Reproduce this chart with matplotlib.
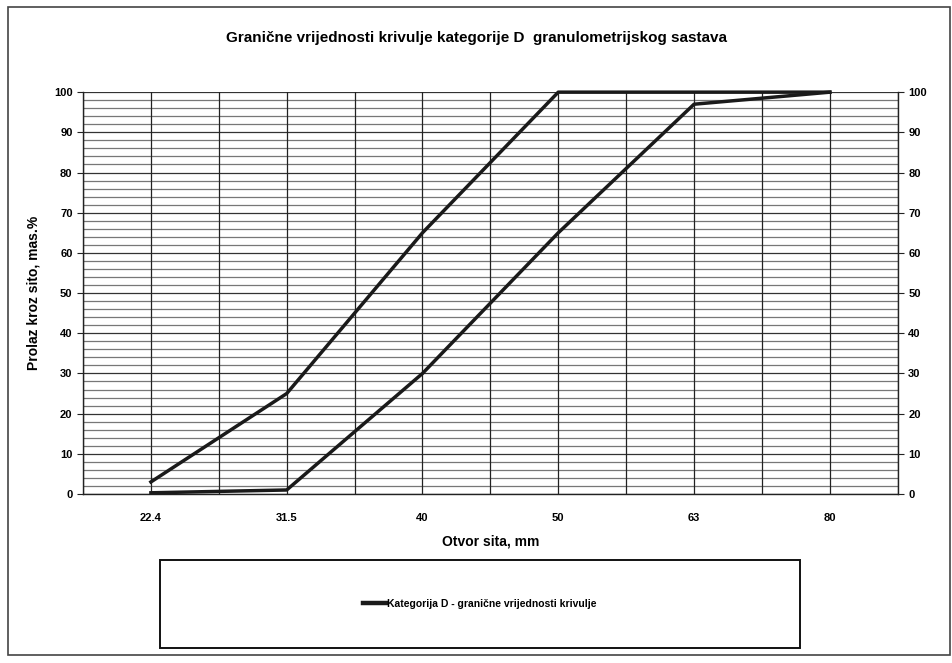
import matplotlib
matplotlib.use("Agg")
import matplotlib.pyplot as plt
import numpy as np
from matplotlib.patches import Rectangle

plt.rcParams['font.family'] = ['Liberation Sans', 'DejaVu Sans']

sieve = ["22.4", "31.5", "40", "50", "63", "80"]
upper = [3, 25, 65, 100, 100, 100]
lower = [0.3, 1, 30, 65, 97, 100]
yticks = [0, 10, 20, 30, 40, 50, 60, 70, 80, 90, 100]

fig = plt.figure(figsize=(9.52, 6.63), dpi=100)
ax = fig.add_axes([0.0872, 0.2549, 0.8558, 0.6061])

x = np.arange(len(sieve))
line_col = "#1a1a1a"

# horizontal grid every 2 %
for v in np.arange(0, 101, 2):
    ax.axhline(v, color="#777777" if v % 10 else "#333333", lw=0.9, zorder=1)
# vertical grid at categories and midpoints
for v in np.arange(-0.5, len(sieve), 0.5):
    ax.axvline(v, color="#222222", lw=0.9, zorder=1)

ax.plot(x, upper, color=line_col, lw=2.5, zorder=3, clip_on=False,
        label="Kategorija D - granične vrijednosti krivulje")
ax.plot(x, lower, color=line_col, lw=2.5, zorder=3, clip_on=False)

ax.set_xlim(-0.5, len(sieve) - 0.5)
ax.set_ylim(0, 100)
ax.set_xticks(x)
ax.set_xticklabels(sieve, fontsize=8, fontweight="bold")
ax.set_yticks(yticks)
ax.set_yticklabels(yticks, fontsize=8, fontweight="bold")
ax.tick_params(axis="y", right=True, labelright=True, length=4, color="#222222")
ax.tick_params(axis="x", length=0, pad=14)
for s in ax.spines.values():
    s.set_color("#222222")
    s.set_linewidth(1.0)
ax.spines["top"].set_visible(False)

ax.set_xlabel("Otvor sita, mm", fontsize=10, fontweight="bold", labelpad=8)
ax.set_ylabel("Prolaz kroz sito, mas.%", fontsize=10, fontweight="bold", labelpad=10)

fig.text(0.5, 0.943, "Granične vrijednosti krivulje kategorije D  granulometrijskog sastava",
         ha="center", va="center", fontsize=11, fontweight="bold")

# outer frame
fig.patches.append(Rectangle((0.008, 0.012), 0.99, 0.977, transform=fig.transFigure,
                             fill=False, ec="#444444", lw=1.2))
# legend box
fig.patches.append(Rectangle((0.168, 0.0226), 0.672, 0.133, transform=fig.transFigure,
                             fill=False, ec="#111111", lw=1.4))
leg = fig.legend(loc="center", bbox_to_anchor=(0.504, 0.089), frameon=False,
                 prop={"size": 7.5, "weight": "bold"}, handlelength=2.2, handletextpad=0.1)
for h in leg.get_lines():
    h.set_linewidth(3.2)

fig.savefig("out.png", dpi=100)
